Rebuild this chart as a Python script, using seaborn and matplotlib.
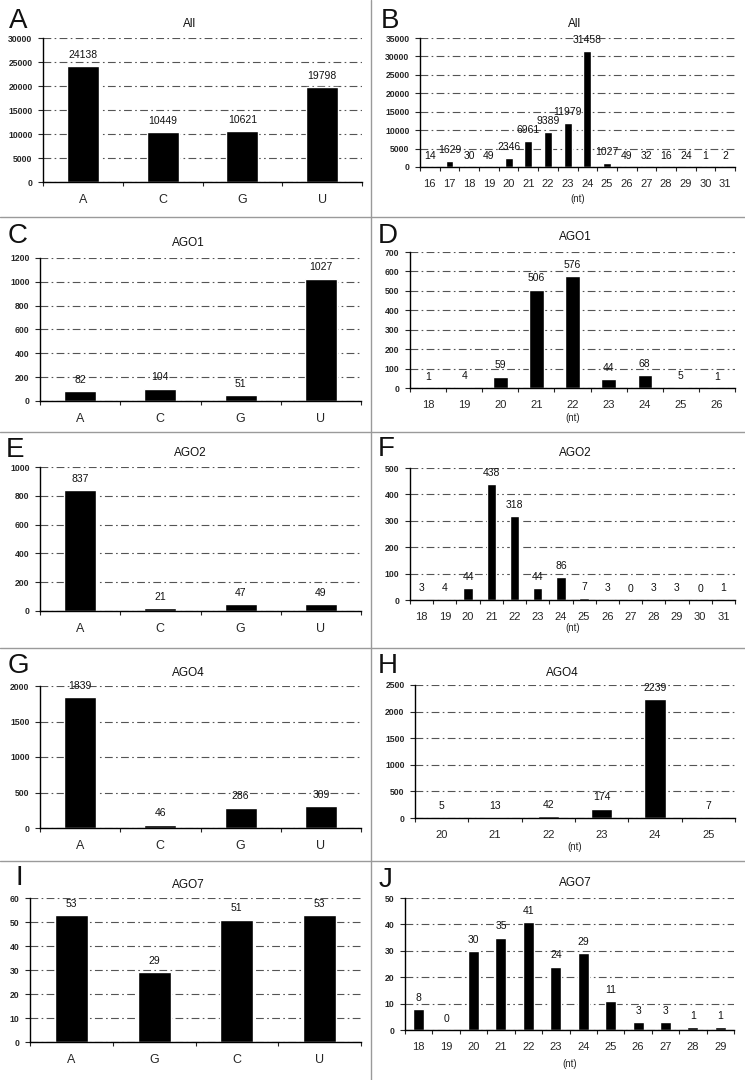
import numpy as np
import pandas as pd
import seaborn as sns
import matplotlib.pyplot as plt
from matplotlib.lines import Line2D

# 5' nucleotide counts
base_cats = ['A', 'C', 'G', 'U']
base_cats_ago7 = ['A', 'G', 'C', 'U']
all_base = [24138, 10449, 10621, 19798]
ago1_base = [82, 104, 51, 1027]
ago2_base = [837, 21, 47, 49]
ago4_base = [1839, 46, 286, 309]
ago7_base = [53, 29, 51, 53]

# length distributions (nt)
all_len = [16, 17, 18, 19, 20, 21, 22, 23, 24, 25, 26, 27, 28, 29, 30, 31]
all_cnt = [14, 1629, 30, 49, 2346, 6961, 9389, 11979, 31458, 1027, 49, 32, 16, 24, 1, 2]
ago1_len = [18, 19, 20, 21, 22, 23, 24, 25, 26]
ago1_cnt = [1, 4, 59, 506, 576, 44, 68, 5, 1]
ago2_len = [18, 19, 20, 21, 22, 23, 24, 25, 26, 27, 28, 29, 30, 31]
ago2_cnt = [3, 4, 44, 438, 318, 44, 86, 7, 3, 0, 3, 3, 0, 1]
ago4_len = [20, 21, 22, 23, 24, 25]
ago4_cnt = [5, 13, 42, 174, 2239, 7]
ago7_len = [18, 19, 20, 21, 22, 23, 24, 25, 26, 27, 28, 29]
ago7_cnt = [8, 0, 30, 35, 41, 24, 29, 11, 3, 3, 1, 1]

sns.set_style('white')
plt.rcParams['font.family'] = ['Liberation Sans', 'DejaVu Sans']
plt.rcParams['text.color'] = '#111111'

W, H = 745, 1080
fig = plt.figure(figsize=(W / 100, H / 100), dpi=100)

# letter, title, cats, values, ymax, step, axes box (l, t, r, b px), title xy,
# letter xy (left, baseline), nt label y
panels = [
    ('A', 'All', base_cats, all_base, 30000, 5000, (43, 38, 362, 182), (190, 24), (9, 28), None),
    ('B', 'All', all_len, all_cnt, 35000, 5000, (420, 38, 735, 167), (575, 24), (381, 28), 199),
    ('C', 'AGO1', base_cats, ago1_base, 1200, 200, (40, 258, 361, 401), (188, 243), (8, 243), None),
    ('D', 'AGO1', ago1_len, ago1_cnt, 700, 100, (410, 252, 735, 388), (575, 237), (378, 243), 418),
    ('E', 'AGO2', base_cats, ago2_base, 1000, 200, (40, 467, 361, 611), (190, 453), (6, 457), None),
    ('F', 'AGO2', ago2_len, ago2_cnt, 500, 100, (410, 468, 735, 600), (575, 453), (378, 456), 628),
    ('G', 'AGO4', base_cats, ago4_base, 2000, 500, (40, 686, 361, 828), (188, 673), (8, 673), None),
    ('H', 'AGO4', ago4_len, ago4_cnt, 2500, 500, (415, 685, 735, 818), (562, 673), (378, 673), 847),
    ('I', 'AGO7', base_cats_ago7, ago7_base, 60, 10, (30, 898, 361, 1042), (188, 885), (15, 885), None),
    ('J', 'AGO7', ago7_len, ago7_cnt, 50, 10, (405, 898, 734, 1030), (575, 883), (379, 887), 1064),
]

for letter, title, cats, vals, ymax, step, box, tpos, lpos, nt_y in panels:
    l, t, r, b = box
    ax = fig.add_axes([l / W, 1 - b / H, (r - l) / W, (b - t) / H])
    labels = [str(c) for c in cats]
    df = pd.DataFrame({'cat': labels, 'val': vals})
    sns.barplot(data=df, x='cat', y='val', order=labels, color='black',
                saturation=1, width=0.4, ax=ax)
    n = len(labels)
    ax.set_xlim(-0.5, n - 0.5)
    ax.set_ylim(0, ymax)
    ax.set_yticks(np.arange(0, ymax + step, step))
    ax.set_xticks(np.arange(n + 1) - 0.5, minor=True)
    ax.set_axisbelow(True)
    ax.yaxis.grid(True, color='#555555', lw=0.8, ls=(0, (7, 3, 1.5, 3)))
    ax.xaxis.grid(False)
    sns.despine(ax=ax)
    for s in ['left', 'bottom']:
        ax.spines[s].set_color('black')
        ax.spines[s].set_linewidth(1.0)
    ax.tick_params(axis='y', direction='out', length=3.5, width=0.8, pad=4,
                   labelsize=6.2, left=True)
    for lab in ax.get_yticklabels():
        lab.set_fontweight('bold')
    ax.tick_params(axis='x', which='major', length=0, pad=8.5,
                   labelsize=9 if nt_y is None else 8)
    ax.tick_params(axis='x', which='minor', direction='out', length=3, width=0.8,
                   bottom=True)
    ax.set_ylabel('')
    ax.bar_label(ax.containers[0], labels=[str(v) for v in vals], padding=4.5,
                 fontsize=7.5, color='#111111')
    if nt_y is not None:
        ax.set_xlabel('(nt)', fontsize=7)
        ax.xaxis.label.set_va('center')
        ax.xaxis.set_label_coords(0.5, -(nt_y - b) / (b - t))
    else:
        ax.set_xlabel('')
    fig.text(tpos[0] / W, 1 - tpos[1] / H, title, ha='center', va='center', fontsize=8.5)
    fig.text(lpos[0] / W, 1 - lpos[1] / H, letter, ha='left', va='baseline', fontsize=20)

# panel separators
for y in [217, 432, 648, 861]:
    fig.add_artist(Line2D([0, 1], [1 - y / H, 1 - y / H], transform=fig.transFigure,
                          color='#9a9a9a', lw=1.0))
fig.add_artist(Line2D([371 / W, 371 / W], [0, 1], transform=fig.transFigure,
                      color='#9a9a9a', lw=1.0))

fig.savefig('out.png', dpi=100)
